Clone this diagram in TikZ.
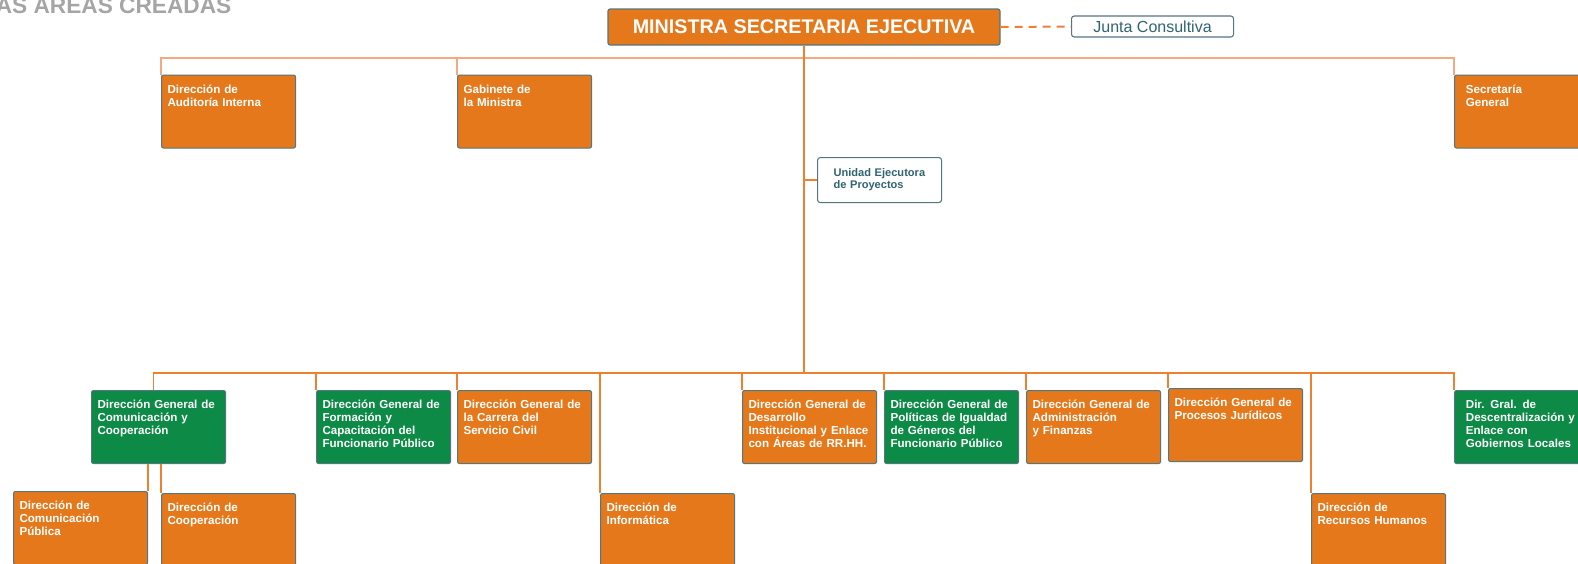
\documentclass[tikz,border=0pt]{standalone}
\usepackage{fontspec}
\setmainfont{Liberation Sans}
\definecolor{orgfill}{RGB}{230,120,28}
\definecolor{grnfill}{RGB}{12,138,70}
\definecolor{edgegray}{RGB}{84,118,126}
\definecolor{linkorange}{RGB}{238,128,50}
\definecolor{linklight}{RGB}{245,170,125}
\definecolor{tealtext}{RGB}{47,100,112}
\definecolor{headgray}{RGB}{165,165,165}
\tikzset{
  unitbox/.style={draw=edgegray, line width=0.8pt, fill=orgfill, rounded corners=1.5pt, anchor=north west,
    inner xsep=4.5pt, inner ysep=0pt, text width=91.5pt, text height=13.5pt, text depth=41.25pt,
    align=left, text=white, font=\bfseries\fontsize{8.7}{9.75}\selectfont},
  greenbox/.style={unitbox, fill=grnfill},
  edgebox/.style={inner xsep=8.5pt, text width=120pt},
  notebox/.style={draw=edgegray, line width=0.8pt, fill=white, rounded corners=2pt, text=tealtext},
  link/.style={draw=linkorange, line width=0.9pt},
  toplink/.style={draw=linklight, line width=0.9pt}
}
\begin{document}
\begin{tikzpicture}[x=0.75pt,y=0.75pt,yscale=-1,xscale=1]
\useasboundingbox (0,0) rectangle (1578,564);
% Text Node
\node [anchor=base east, text=headgray, font=\bfseries\fontsize{17}{20}\selectfont] (heading) at (236,13) {AS AREAS CREADAS};
% Shape: Rectangle
\node [draw=edgegray, line width=0.8pt, fill=orgfill, rounded corners=1.5pt, minimum width=294pt, minimum height=27pt, text=white, font=\bfseries\fontsize{14.8}{17}\selectfont] (ministra) at (804,27) {MINISTRA SECRETARIA EJECUTIVA};
\node [notebox, anchor=west, minimum width=121.5pt, minimum height=15.75pt, font=\fontsize{12}{14}\selectfont] (junta) at (1071,26.5) {Junta Consultiva};
\node [notebox, anchor=north west, inner xsep=12pt, inner ysep=0pt, text width=69pt, text height=14.25pt, text depth=19.5pt, align=left, font=\bfseries\fontsize{8.3}{9}\selectfont] (unidad) at (817,157) {Unidad Ejecutora\\de Proyectos};
% upper level
\node [unitbox] (aud) at (161,74.5) {Dirección de\\Auditoría Interna};
\node [unitbox] (gab) at (457,74.5) {Gabinete de\\la Ministra};
\node [unitbox, edgebox] (sec) at (1454,74.5) {Secretaría\\General};
% lower level
\node [greenbox] (dgcom) at (91,390) {Dirección General de\\Comunicación y\\Cooperación};
\node [greenbox] (dgform) at (316,390) {Dirección General de\\Formación y\\Capacitación del\\Funcionario Público};
\node [unitbox] (dgcar) at (457,390) {Dirección General de\\la Carrera del\\Servicio Civil};
\node [unitbox] (info) at (600,493) {Dirección de\\Informática};
\node [unitbox] (dgdes) at (742,390) {Dirección General de\\Desarrollo\\Institucional y Enlace\\con Áreas de RR.HH.};
\node [greenbox] (dgpol) at (884,390) {Dirección General de\\Políticas de Igualdad\\de Géneros del\\Funcionario Público};
\node [unitbox] (dgadm) at (1026,390) {Dirección General de\\Administración\\y Finanzas};
\node [unitbox] (dgjur) at (1168,388) {Dirección General de\\Procesos Jurídicos};
\node [unitbox] (rrhh) at (1311,493) {Dirección de\\Recursos Humanos};
\node [greenbox, edgebox] (dgdesc) at (1454,390) {Dir. Gral. de\\Descentralización y\\Enlace con\\Gobiernos Locales};
\node [unitbox] (compub) at (13,491) {Dirección de\\Comunicación\\Pública};
\node [unitbox] (coop) at (161,493) {Dirección de\\Cooperación};
% Straight Lines
\coordinate (topbus) at (804,58);
\coordinate (botbus) at (804,373);
\draw [toplink] (aud.north west) -- (aud.north west |- topbus) -- (sec.north west |- topbus) -- (sec.north west);
\draw [toplink] (gab.north west) -- (gab.north west |- topbus);
\draw [link] (ministra.south) -- (ministra.south |- botbus);
\draw [link, line width=1.5pt, dash pattern={on 6pt off 4.5pt}] (ministra.east) -- (junta.west);
\draw [link, line width=2pt] (unidad.west) -- (unidad.west -| ministra.south);
\draw [link] ([xshift=-3.75pt]dgcom.north) |- (dgdesc.north west |- botbus) -- (dgdesc.north west);
\foreach \n in {dgform,dgcar,info,dgdes,dgpol,dgadm,dgjur,rrhh}
  \draw [link] (\n.north west) -- (\n.north west |- botbus);
\draw [link] (compub.north east) -- (compub.north east |- dgcom.south);
\draw [link] (coop.north west) -- (coop.north west |- dgcom.south);
\end{tikzpicture}
\end{document}
